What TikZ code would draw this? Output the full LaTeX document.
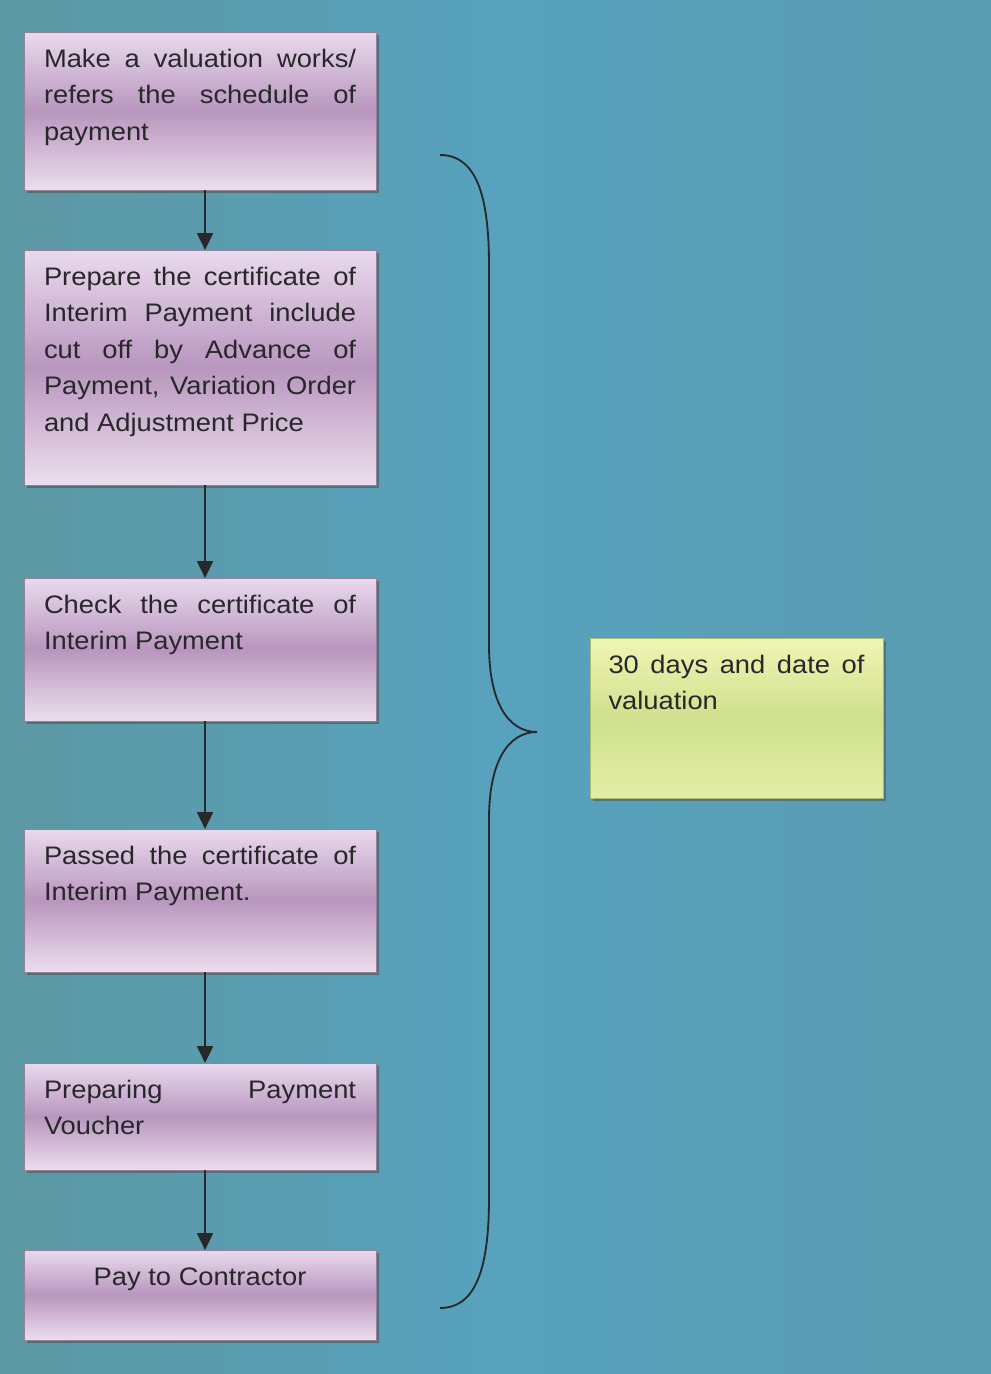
\documentclass[tikz,border=0pt]{standalone}
\usepackage{fontspec}
\setmainfont{Liberation Sans}[FakeStretch=1.08]
\usetikzlibrary{arrows.meta,shadows}

\definecolor{bgleft}{RGB}{92,152,162}
\definecolor{bgmid}{RGB}{88,162,190}
\definecolor{bgright}{RGB}{90,156,176}
\definecolor{lavtop}{RGB}{234,218,238}
\definecolor{lavmid}{RGB}{184,150,190}
\definecolor{lavbot}{RGB}{236,222,238}
\definecolor{lavedge}{RGB}{150,128,156}
\definecolor{limetop}{RGB}{240,245,180}
\definecolor{limemid}{RGB}{208,224,142}
\definecolor{limebot}{RGB}{228,238,166}
\definecolor{limeedge}{RGB}{170,186,110}
\definecolor{ink}{RGB}{40,40,42}

\tikzset{
  stepbox/.style={draw=lavedge, line width=0.4pt,
    top color=lavtop, bottom color=lavbot, middle color=lavmid,
    drop shadow={shadow xshift=0.07cm, shadow yshift=-0.07cm, opacity=0.55, fill=black!70},
    anchor=north west, inner xsep=0.5cm, inner ysep=0pt, outer sep=0pt,
    text=ink, font=\fontsize{18}{26}\selectfont},
  notebox/.style={draw=limeedge, line width=0.4pt,
    top color=limetop, bottom color=limebot, middle color=limemid,
    drop shadow={shadow xshift=0.07cm, shadow yshift=-0.07cm, opacity=0.5, fill=black!70},
    anchor=north west, inner xsep=0.4625cm, inner ysep=0pt, outer sep=0pt,
    text=ink, font=\fontsize{18}{26}\selectfont},
  flow/.style={draw=ink, line width=1pt, -{Triangle[width=0.4cm,length=0.42cm]}},
  bracepath/.style={draw=ink, line width=1.3pt}
}

% text block of fixed height, first baseline at a fixed depth below the top
\newcommand{\stepText}[3]{\parbox[c][#1][t]{#2}{\rule{0pt}{0.875cm}#3}}

\begin{document}
\begin{tikzpicture}[x=0.025cm, y=-0.025cm]
  \useasboundingbox (0,0) rectangle (991,1374);
  \shade[left color=bgleft, right color=bgright, middle color=bgmid] (0,0) rectangle (991,1374);

  % process steps
  \node[stepbox] (b1) at (24,32)
    {\stepText{3.95cm}{7.8cm}{Make a valuation works/\linebreak refers the schedule of\linebreak payment}};
  \node[stepbox] (b2) at (24,250)
    {\stepText{5.875cm}{7.8cm}{Prepare the certificate of\linebreak Interim Payment include\linebreak cut off by Advance of\linebreak Payment, Variation Order\linebreak and Adjustment Price}};
  \node[stepbox] (b3) at (24,578)
    {\stepText{3.575cm}{7.8cm}{Check the certificate of\linebreak Interim Payment}};
  \node[stepbox] (b4) at (24,829)
    {\stepText{3.575cm}{7.8cm}{Passed the certificate of\linebreak Interim Payment.}};
  \node[stepbox] (b5) at (24,1063)
    {\stepText{2.675cm}{7.8cm}{Preparing Payment\linebreak Voucher}};
  \node[stepbox] (b6) at (24,1250)
    {\stepText{2.25cm}{7.8cm}{\centering Pay to Contractor\par}};

  % time limit note
  \node[notebox] (note) at (590,638)
    {\stepText{4cm}{6.4cm}{30 days and date of\linebreak valuation}};

  % arrows between steps
  \draw[flow] ([xshift=0.125cm]b1.south) -- ([xshift=0.125cm]b2.north);
  \draw[flow] ([xshift=0.125cm]b2.south) -- ([xshift=0.125cm]b3.north);
  \draw[flow] ([xshift=0.125cm]b3.south) -- ([xshift=0.125cm]b4.north);
  \draw[flow] ([xshift=0.125cm]b4.south) -- ([xshift=0.125cm]b5.north);
  \draw[flow] ([xshift=0.125cm]b5.south) -- ([xshift=0.125cm]b6.north);

  % curly brace spanning all steps
  \coordinate (btop) at (440,155);
  \coordinate (btip) at (537,732);
  \coordinate (bbot) at (440,1308);
  \draw[bracepath] (btop)
    .. controls (476,155) and (489,195) .. (489,265)
    -- (489,645)
    .. controls (489,702) and (508,732) .. (btip)
    .. controls (508,732) and (489,762) .. (489,819)
    -- (489,1198)
    .. controls (489,1268) and (476,1308) .. (bbot);
\end{tikzpicture}
\end{document}
